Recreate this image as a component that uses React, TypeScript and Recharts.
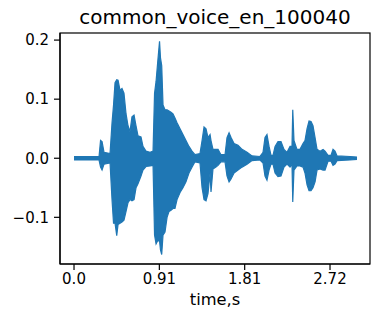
import { ComposedChart, Area, XAxis, YAxis } from "recharts";

// waveform envelope (seconds, upper peak, lower peak)
const times = [
  0, 0.266, 0.282, 0.298, 0.319, 0.383, 0.404, 0.42, 0.436, 0.454, 0.468, 0.489, 0.51, 0.531, 0.553,
  0.574, 0.595, 0.616, 0.638, 0.659, 0.68, 0.712, 0.733, 0.765, 0.808, 0.84, 0.856, 0.872, 0.888,
  0.909, 0.919, 0.932, 0.946, 0.967, 0.989, 1.01, 1.031, 1.052, 1.073, 1.095, 1.127, 1.158, 1.19,
  1.222, 1.254, 1.286, 1.339, 1.361, 1.382, 1.403, 1.424, 1.446, 1.456, 1.477, 1.509, 1.531, 1.562,
  1.605, 1.626, 1.648, 1.669, 1.701, 1.743, 1.786, 1.839, 1.892, 1.977, 2.009, 2.03, 2.051, 2.073,
  2.094, 2.115, 2.137, 2.168, 2.2, 2.232, 2.264, 2.296, 2.317, 2.325, 2.338, 2.37, 2.402, 2.434,
  2.455, 2.477, 2.498, 2.519, 2.54, 2.562, 2.583, 2.615, 2.647, 2.668, 2.7, 2.732, 2.753, 2.774,
  2.796, 2.934, 3.008,
];

const upper = [
  0.003, 0.003, 0.03, 0.028, 0.01, 0.008, 0.06, 0.09, 0.128, 0.133, 0.132, 0.115, 0.118, 0.11, 0.075,
  0.055, 0.045, 0.07, 0.073, 0.055, 0.038, 0.036, 0.02, 0.012, 0.01, 0.012, 0.11, 0.13, 0.16,
  0.198, 0.17, 0.157, 0.09, 0.082, 0.082, 0.08, 0.078, 0.075, 0.068, 0.06, 0.05, 0.04, 0.03,
  0.02, 0.012, 0.006, 0.008, 0.03, 0.053, 0.05, 0.035, 0.04, 0.03, 0.015, 0.015, 0.015, 0.006,
  0.006, 0.035, 0.043, 0.035, 0.025, 0.022, 0.015, 0.01, 0.004, 0.003, 0.01, 0.035, 0.04, 0.02,
  0.005, 0.005, 0.02, 0.028, 0.028, 0.015, 0.01, 0.02, 0.02, 0.082, 0.03, 0.015, 0.015, 0.025,
  0.03, 0.05, 0.063, 0.062, 0.055, 0.035, 0.015, 0.012, 0.015, 0.012, 0.005, 0.005, 0.015, 0.012,
  0.004, 0.003, 0.002,
];

const lower = [
  -0.003, -0.003, -0.015, -0.02, -0.01, -0.008, -0.07, -0.11, -0.11, -0.131, -0.112, -0.11, -0.108, -0.105, -0.09,
  -0.075, -0.07, -0.072, -0.07, -0.05, -0.043, -0.03, -0.02, -0.014, -0.013, -0.012, -0.13, -0.145, -0.14,
  -0.14, -0.155, -0.163, -0.13, -0.125, -0.1, -0.09, -0.088, -0.085, -0.085, -0.07, -0.058, -0.05, -0.04,
  -0.025, -0.015, -0.006, -0.008, -0.05, -0.07, -0.072, -0.06, -0.025, -0.057, -0.018, -0.015, -0.012, -0.006,
  -0.006, -0.03, -0.04, -0.035, -0.025, -0.02, -0.015, -0.01, -0.004, -0.003, -0.008, -0.03, -0.037, -0.02,
  -0.01, -0.01, -0.025, -0.031, -0.03, -0.015, -0.01, -0.015, -0.01, -0.074, -0.02, -0.013, -0.013, -0.015,
  -0.025, -0.045, -0.055, -0.055, -0.05, -0.04, -0.02, -0.018, -0.02, -0.02, -0.005, -0.005, -0.012, -0.01,
  -0.004, -0.003, -0.002,
];

const xTicks = [0, 0.907, 1.814, 2.721];
const xTickLabels = ["0.0", "0.91", "1.81", "2.72"];
const yTicks = [-0.1, 0, 0.1, 0.2];
const yTickLabels = ["\u22120.1", "0.0", "0.1", "0.2"];

const title = "common_voice_en_100040";
const xLabel = "time,s";

const data = times.map((t, i) => ({ t, range: [lower[i], upper[i]] }));

const FONT = "DejaVu Sans, sans-serif";
const BLUE = "#1f77b4";

export default function App() {
  const tickStyle = { fill: "#000", fontSize: 15, fontFamily: FONT };

  return (
    <div style={{ position: "absolute", left: 0, top: 0, width: 380, height: 319, background: "#fff" }}>
      <ComposedChart
        width={380}
        height={319}
        data={data}
        margin={{ top: 33, right: 10, left: 0, bottom: 0 }}
      >
        <XAxis
          dataKey="t"
          type="number"
          domain={[-0.149, 3.146]}
          allowDataOverflow
          ticks={xTicks}
          tickFormatter={(v: number) => xTickLabels[xTicks.indexOf(v)] ?? String(v)}
          height={55}
          tickSize={6}
          tickMargin={3}
          tick={tickStyle}
          axisLine={{ stroke: "#000", strokeWidth: 1.2 }}
          tickLine={{ stroke: "#000", strokeWidth: 1.2 }}
        />
        <YAxis
          type="number"
          domain={[-0.179, 0.212]}
          allowDataOverflow
          ticks={yTicks}
          tickFormatter={(v: number) => yTickLabels[yTicks.indexOf(v)] ?? String(v)}
          width={60}
          tickSize={6}
          tickMargin={5}
          tick={tickStyle}
          axisLine={{ stroke: "#000", strokeWidth: 1.2 }}
          tickLine={{ stroke: "#000", strokeWidth: 1.2 }}
        />
        <Area
          type="linear"
          dataKey="range"
          stroke={BLUE}
          strokeWidth={1.2}
          fill={BLUE}
          fillOpacity={1}
          dot={false}
          activeDot={false}
          isAnimationActive={false}
        />
      </ComposedChart>
      <svg
        width={380}
        height={319}
        style={{ position: "absolute", left: 0, top: 0, pointerEvents: "none" }}
      >
        <rect x={60} y={33} width={310} height={231} fill="none" stroke="#000" strokeWidth={1.2} />
        <text x={215} y={24} textAnchor="middle" fontFamily={FONT} fontSize={20} fill="#000">
          {title}
        </text>
        <text x={215} y={305} textAnchor="middle" fontFamily={FONT} fontSize={16.3} fill="#000">
          {xLabel}
        </text>
      </svg>
    </div>
  );
}
